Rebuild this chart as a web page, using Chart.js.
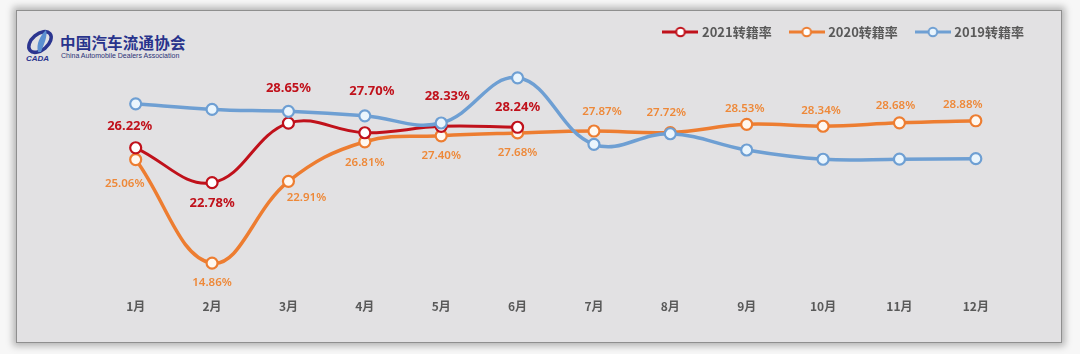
<!DOCTYPE html>
<html>
<head>
<meta charset="utf-8">
<script src="https://cdn.jsdelivr.net/npm/chart.js@4/dist/chart.umd.min.js"></script>
<style>
  html, body { margin: 0; padding: 0; background: #f7f7f7; }
  #wrap { position: absolute; left: 0; top: 0; width: 1080px; height: 354px; }
  #panel {
    position: absolute; left: 16px; top: 10px; width: 1044px; height: 331px;
    background: #e2e1e3; border: 1.5px solid #8f8f8f;
    box-shadow: 0 0 7px 3px rgba(0,0,0,0.28);
  }
  #logo { position: absolute; left: 24px; top: 26px; }
  #logo .cn {
    position: absolute; left: 36px; top: 5px; white-space: nowrap;
    font: bold 15.5px "Noto Sans CJK SC"; color: #28338c; letter-spacing: 0.2px;
  }
  #logo .en {
    position: absolute; left: 37px; top: 26px; white-space: nowrap;
    font: 7px "Liberation Sans"; color: #2b3276;
  }
  #chartBox { position: absolute; left: 0; top: 0; width: 1080px; height: 354px; }
</style>
</head>
<body>
<div id="wrap">
  <div id="panel"></div>
  <div id="logo">
    <svg width="34" height="36" viewBox="0 0 34 36">
      <ellipse cx="16" cy="16" rx="13" ry="8" fill="none" stroke="#2b3590" stroke-width="3.5" transform="rotate(-40 16 16)"/>
      <path d="M14 26 C12 18 16 10 22 4 C24 10 20 18 17 26 Z" fill="#5b8fd0"/>
      <text x="2" y="35" font-family="Liberation Sans" font-style="italic" font-weight="bold" font-size="8" fill="#2b3590">CADA</text>
    </svg>
    <div class="cn">中国汽车流通协会</div>
    <div class="en">China Automobile Dealers Association</div>
  </div>
  <div id="chartBox"><canvas id="js-line-chart"></canvas></div>
</div>
<script>
// month labels
const months = ['1月', '2月', '3月', '4月', '5月', '6月', '7月', '8月', '9月', '10月', '11月', '12月']

// transfer rates (%)
const rate2021 = [26.22, 22.78, 28.65, 27.70, 28.33, 28.24]
const rate2020 = [25.06, 14.86, 22.91, 26.81, 27.40, 27.68, 27.87, 27.72, 28.53, 28.34, 28.68, 28.88]
// 2019 has no printed labels
const rate2019 = [30.55, 30.00, 29.81, 29.37, 28.66, 33.11, 26.56, 27.60, 26.00, 25.09, 25.10, 25.15]

// where each value label sits relative to its point (px)
const offs2021 = [[-6, -21], [0, 21], [0, -35], [7, -41], [6, -30], [0, -20]]
const offs2020 = [[-11, 24], [0, 20], [18, 16], [0, 21], [0, 20], [0, 20],
                  [8, -19], [-4, -20], [-2, -16], [-2, -16], [-4, -17], [-13, -16]]

const red = '#c0111b'
const orange = '#ed7d31'
const blue = '#6e9fd3'

// little line + circle icon for the legend
function legendIcon(color, fill) {
  const c = document.createElement('canvas')
  c.width = 36
  c.height = 12
  const g = c.getContext('2d')
  g.strokeStyle = color
  g.lineWidth = 3
  g.beginPath()
  g.moveTo(0, 6)
  g.lineTo(36, 6)
  g.stroke()
  g.beginPath()
  g.arc(18, 6, 4.3, 0, Math.PI * 2)
  g.fillStyle = fill
  g.fill()
  g.lineWidth = 2
  g.stroke()
  return c
}

// draws the % labels next to the points
const valueLabels = {
  id: 'valueLabels',
  afterDatasetsDraw(chart) {
    const ctx = chart.ctx
    chart.data.datasets.forEach((ds, i) => {
      if (!ds.labelOffsets) return
      const meta = chart.getDatasetMeta(i)
      ctx.save()
      ctx.font = ds.labelFont
      ctx.fillStyle = ds.labelColor
      ctx.textAlign = 'center'
      ctx.textBaseline = 'middle'
      meta.data.forEach((pt, j) => {
        const o = ds.labelOffsets[j]
        ctx.fillText(ds.data[j].toFixed(2) + '%', pt.x + o[0], pt.y + o[1])
      })
      ctx.restore()
    })
  }
}

const ctx = document.getElementById('js-line-chart').getContext('2d')

const lineChart = new Chart(ctx, {
  type: 'line',
  data: {
    labels: months,
    datasets: [
      {
        label: '2021转籍率',
        data: rate2021,
        borderColor: red,
        backgroundColor: '#ffffff',
        pointBackgroundColor: '#ffffff',
        borderWidth: 3,
        pointRadius: 5.5,
        pointBorderWidth: 2.2,
        tension: 0.4,
        order: 1,
        icon: legendIcon(red, '#ffffff'),
        labelOffsets: offs2021,
        labelFont: 'bold 13px "Noto Sans"',
        labelColor: red,
      },
      {
        label: '2020转籍率',
        data: rate2020,
        borderColor: orange,
        backgroundColor: '#ffffff',
        pointBackgroundColor: '#fff8f0',
        borderWidth: 3.5,
        pointRadius: 5.5,
        pointBorderWidth: 2.2,
        tension: 0.4,
        order: 2,
        icon: legendIcon(orange, '#ffffff'),
        labelOffsets: offs2020,
        labelFont: '600 11.5px "Noto Sans"',
        labelColor: '#ee8838',
      },
      {
        label: '2019转籍率',
        data: rate2019,
        borderColor: blue,
        backgroundColor: '#eaf5fd',
        pointBackgroundColor: '#eaf5fd',
        borderWidth: 3.5,
        pointRadius: 5.5,
        pointBorderWidth: 2.2,
        tension: 0.4,
        order: 0,
        icon: legendIcon(blue, '#eaf5fd'),
      },
    ],
  },
  options: {
    responsive: true,
    maintainAspectRatio: false,
    animation: false,
    layout: { padding: { top: 5.5, right: 36, bottom: 33.5, left: 0 } },
    plugins: {
      tooltip: { enabled: false },
      legend: {
        position: 'top',
        align: 'end',
        labels: {
          usePointStyle: true,
          pointStyleWidth: 30,
          padding: 20,
          color: '#595959',
          font: { family: '"Noto Sans CJK SC"', size: 13, weight: 'bold' },
          generateLabels(chart) {
            return chart.data.datasets.map((ds, i) => ({
              text: ds.label,
              pointStyle: ds.icon,
              fontColor: '#595959',
              datasetIndex: i,
              hidden: !chart.isDatasetVisible(i),
              lineWidth: 0,
            }))
          },
        },
      },
    },
    scales: {
      x: {
        offset: true,
        grid: { display: false, drawTicks: false },
        border: { display: false },
        ticks: {
          padding: 7,
          color: '#595959',
          font: { family: '"Noto Sans CJK SC"', size: 12, weight: 'bold' },
        },
      },
      y: {
        min: 12,
        max: 36,
        grid: { display: false, drawTicks: false },
        border: { display: false },
        ticks: { display: false },
        afterFit(scale) { scale.width = 97.5 },
      },
      y2: {
        position: 'right',
        min: 0,
        max: 1,
        grid: { display: false, drawTicks: false },
        border: { display: false },
        ticks: { display: false },
        afterFit(scale) { scale.width = 30 },
      },
    },
  },
  plugins: [valueLabels],
})
</script>
</body>
</html>
